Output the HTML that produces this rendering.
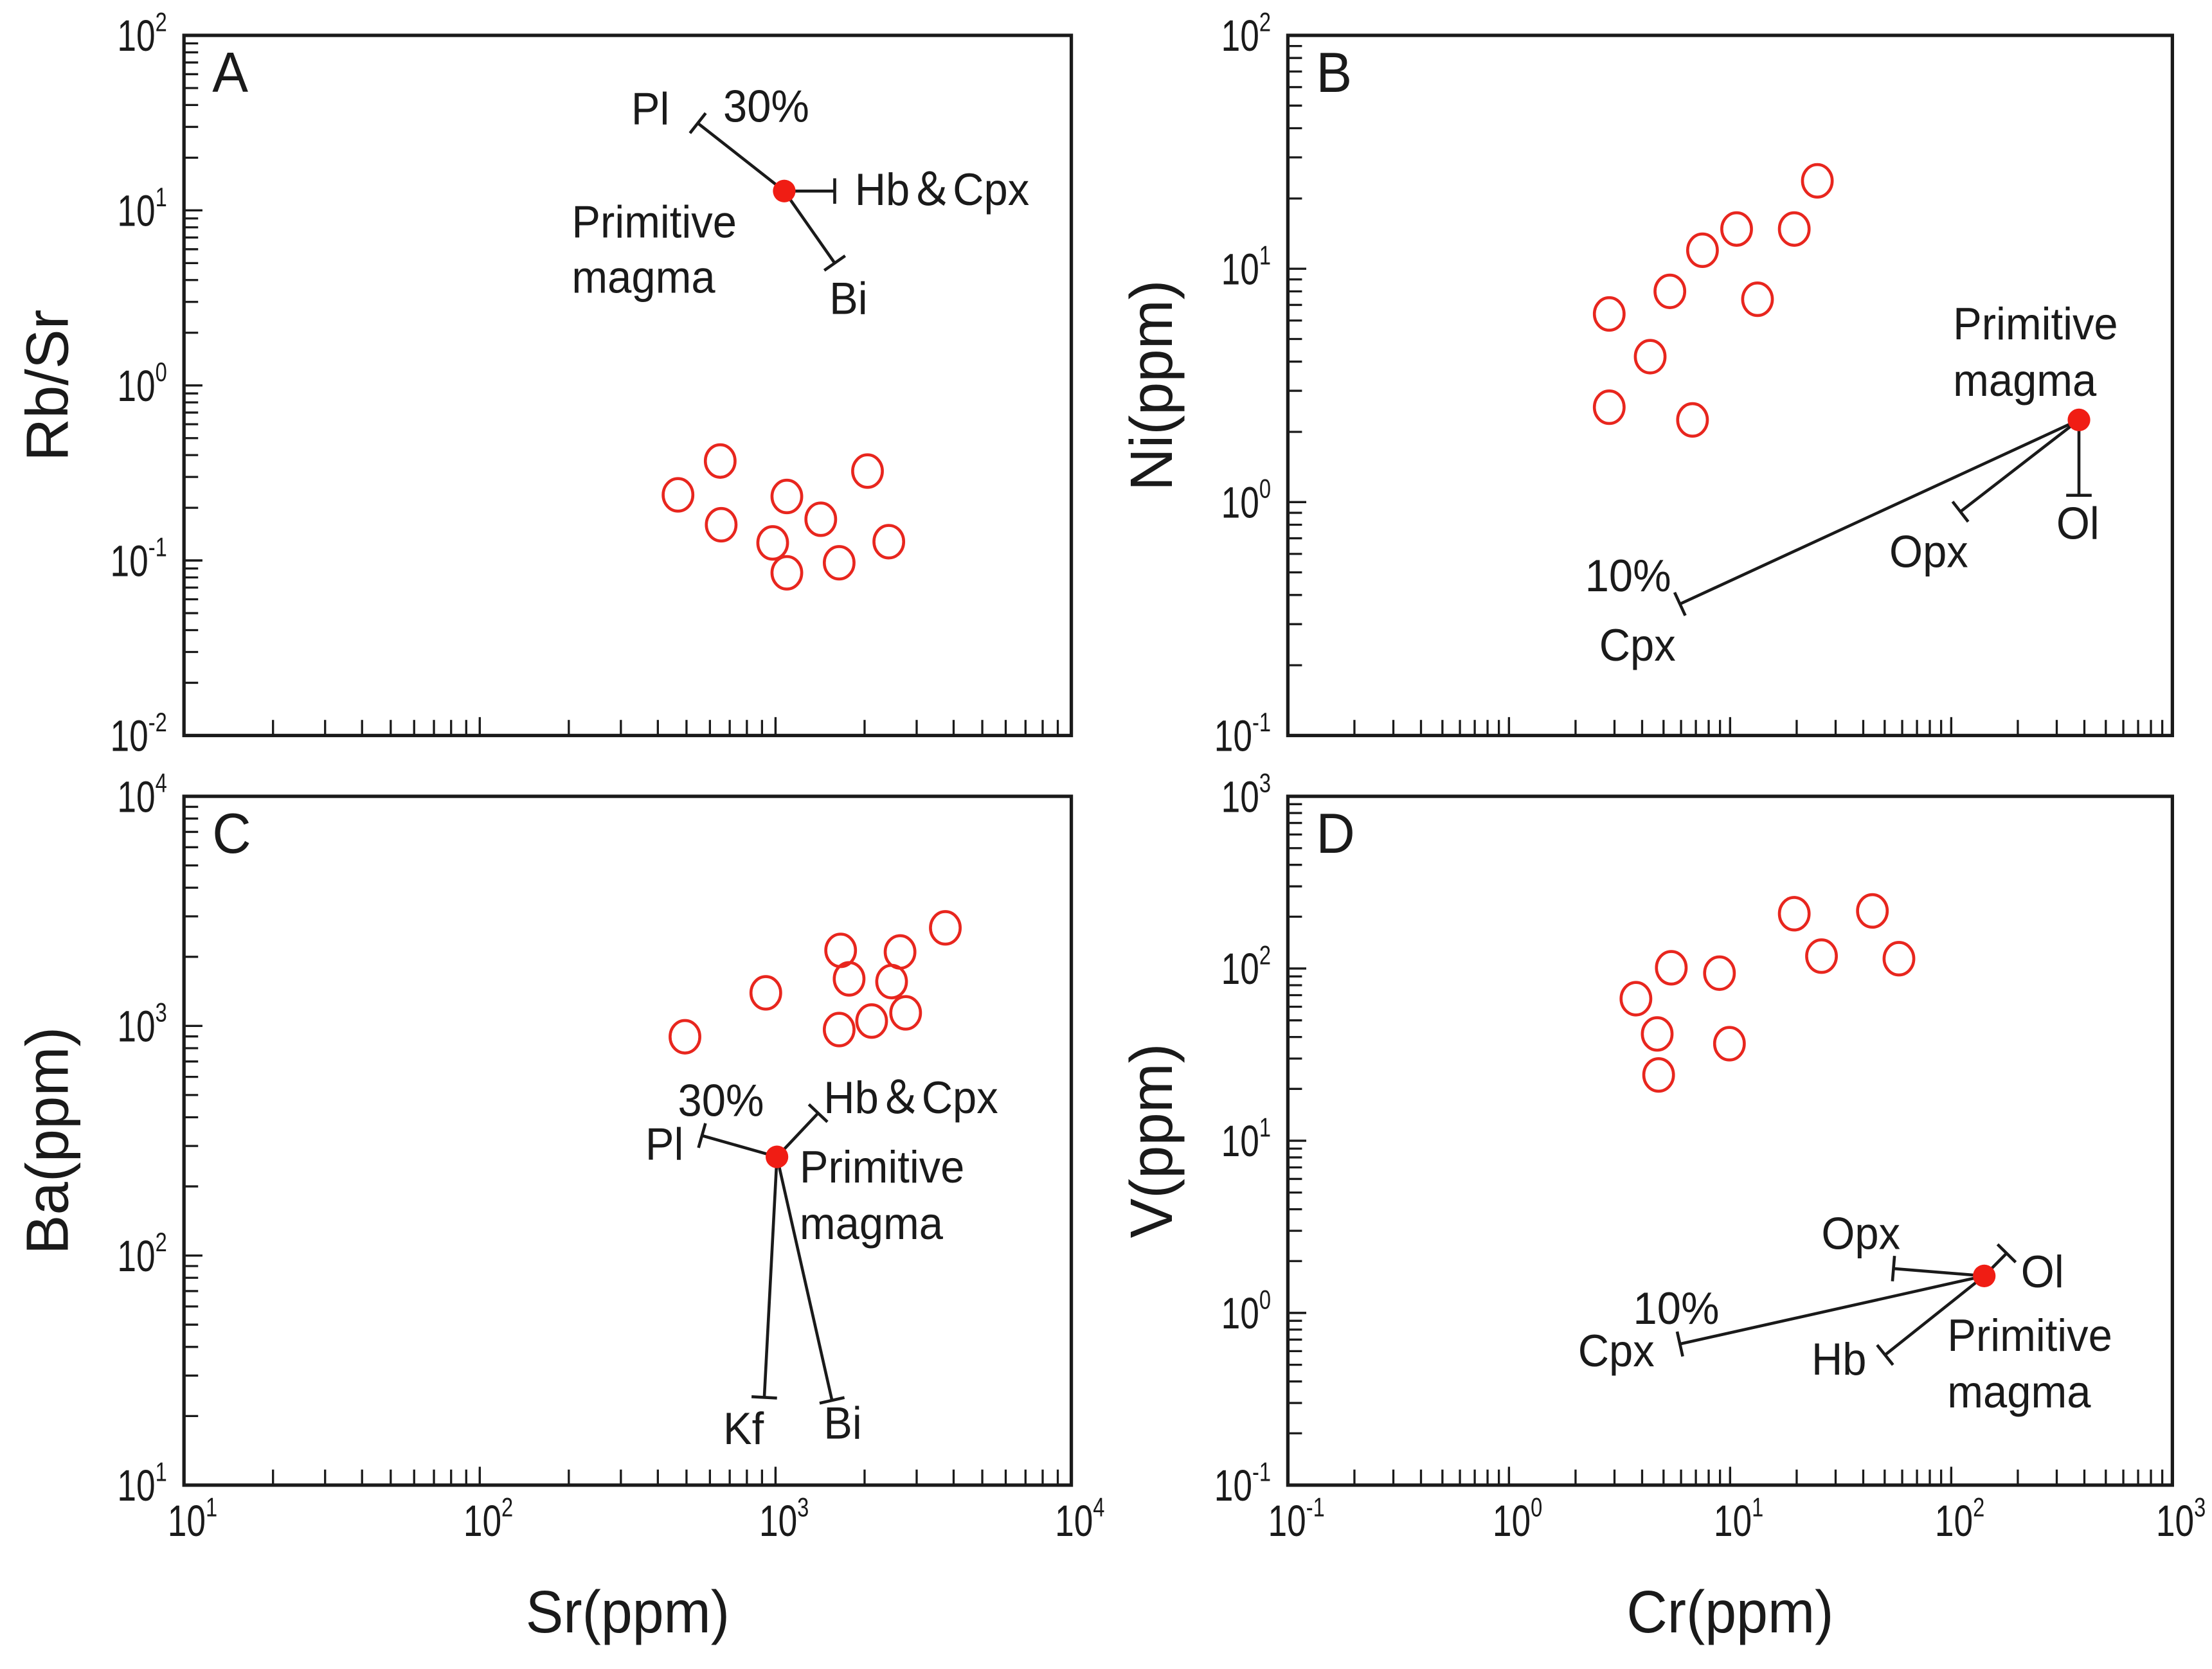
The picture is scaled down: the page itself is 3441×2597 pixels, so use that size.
<!DOCTYPE html>
<html><head><meta charset="utf-8">
<style>
html,body{margin:0;padding:0;background:#fff;}
svg{display:block;}
text{font-family:"Liberation Sans","Noto Sans CJK SC",sans-serif;fill:#1a1a1a;}
</style></head>
<body>
<svg id="chart" width="3441" height="2597" viewBox="0 0 1563 1180" preserveAspectRatio="none" xmlns="http://www.w3.org/2000/svg"></svg>
<script>
// ---- data ----
const aSr = [468, 650, 655, 978, 1092, 1092, 1422, 1641, 2046, 2415];
const aRbSr = [0.237, 0.37, 0.16, 0.126, 0.232, 0.085, 0.172, 0.097, 0.324, 0.128];
const aPrim = [1070, 12.9];
const aVecNames = ["Pl", "Hb&Cpx", "Bi"];
const aVecX = [546, 1585, 1585];
const aVecY = [31.5, 12.9, 5.0];

const bCr = [2.84, 4.35, 2.84, 5.34, 7.5, 10.7, 13.3, 19.5, 24.8, 6.76];
const bNi = [6.4, 4.2, 2.55, 8.0, 12, 14.8, 7.4, 14.8, 23.8, 2.25];
const bPrim = [378, 2.25];
const bVecNames = ["Ol", "Opx", "Cpx"];
const bVecX = [378, 110, 5.93];
const bVecY = [1.07, 0.91, 0.366];

const cSr = [494, 927, 1660, 1773, 1641, 2113, 2636, 2468, 2753, 3750];
const cBa = [897, 1393, 2133, 1603, 964, 1050, 2100, 1560, 1140, 2673];
const cPrim = [1011, 269];
const cVecNames = ["Pl", "Hb&Cpx", "Kf", "Bi"];
const cVecX = [564, 1393, 916, 1552];
const cVecY = [333, 417, 24.1, 23.4];

const dCr = [3.75, 5.42, 4.68, 4.75, 8.95, 9.93, 19.5, 25.9, 44, 58];
const dV = [66.8, 101, 41.7, 24.1, 94, 36.6, 208, 118, 216, 114];
const dPrim = [141, 1.64];
const dVecNames = ["Ol", "Opx", "Hb", "Cpx"];
const dVecX = [178, 54.8, 50.2, 5.93];
const dVecY = [2.22, 1.81, 0.57, 0.66];

const NS = "http://www.w3.org/2000/svg";
const svg = document.getElementById("chart");
function mk(tag, attrs, parent) {
  const e = document.createElementNS(NS, tag);
  for (const k in attrs) e.setAttribute(k, attrs[k]);
  (parent || svg).appendChild(e);
  return e;
}
function txt(parent, x, y, s, size, anchor) {
  const t = mk("text", {x: x, y: y, "font-size": size, "text-anchor": anchor || "start",
    transform: "translate(" + x + "," + y + ") scale(0.95,1) translate(" + (-x) + "," + (-y) + ")"}, parent);
  t.textContent = s;
  return t;
}
function powLabel(parent, x, y, exp, anchor) {
  const t = mk("text", {x: x, y: y, "font-size": 31, "text-anchor": anchor, "transform": "translate(" + x + "," + y + ") scale(0.78,1) translate(" + (-x) + "," + (-y) + ")"}, parent);
  const a = mk("tspan", {}, t); a.textContent = "10";
  const b = mk("tspan", {dy: -14, "font-size": 19}, t); b.textContent = String(exp);
  return t;
}

function panel(cfg) {
  const g = mk("g", {});
  
  
  const X = v => cfg.x0 + (Math.log10(v) - cfg.xl[0]) / (cfg.xl[1] - cfg.xl[0]) * (cfg.x1 - cfg.x0);
  const Y = v => cfg.y1 - (Math.log10(v) - cfg.yl[0]) / (cfg.yl[1] - cfg.yl[0]) * (cfg.y1 - cfg.y0);
  const fr = mk("rect", {x: cfg.x0, y: cfg.y0, width: cfg.x1 - cfg.x0, height: cfg.y1 - cfg.y0, fill: "none", stroke: "#1a1a1a", "stroke-width": 2.4}, g);
  
  
  const tk = mk("g", {stroke: "#1a1a1a", "stroke-width": 1.5}, g);
  
  
  for (let d = cfg.xl[0]; d < cfg.xl[1]; d++) {
    for (let k = 1; k <= 10; k++) {
      const v = k * Math.pow(10, d);
      if (k === 1 && d === cfg.xl[0]) continue;
      if (k === 10 && d + 1 === cfg.xl[1]) continue;
      const x = X(v);
      mk("line", {x1: x, x2: x, y1: cfg.y1, y2: cfg.y1 - (k === 10 ? 13 : 11)}, tk);
    }
  }
  for (let d = cfg.yl[0]; d < cfg.yl[1]; d++) {
    for (let k = 1; k <= 10; k++) {
      const v = k * Math.pow(10, d);
      const y = Y(v);
      mk("line", {x1: cfg.x0, x2: cfg.x0 + (k === 1 || k === 10 ? 13 : 10), y1: y, y2: y}, tk);
    }
  }
  for (let d = cfg.yl[0]; d <= cfg.yl[1]; d++) {
    const l = powLabel(g, cfg.x0 - 12, Y(Math.pow(10, d)) + 11, d, "end");
    
    
  }
  if (cfg.showX) {
    for (let d = cfg.xl[0]; d <= cfg.xl[1]; d++) {
      const l = powLabel(g, X(Math.pow(10, d)) + 6, cfg.y1 + 36, d, "middle");
      
      
    }
    const xt = txt(g, (cfg.x0 + cfg.x1) / 2, cfg.y1 + 104, cfg.xTitle, 42, "middle");
    
    
  }
  const cy = (cfg.y0 + cfg.y1) / 2;
  const yt = mk("text", {x: 0, y: 0, "font-size": 42, "text-anchor": "middle", transform: "translate(" + (cfg.x0 - 82) + "," + cy + ") rotate(-90)"}, g);
  yt.textContent = cfg.yTitle;
  
  
  const pl = txt(g, cfg.x0 + 20, cfg.y0 + 40, cfg.letter, 40);
  
  
  const px = X(cfg.prim[0]), py = Y(cfg.prim[1]);
  for (let i = 0; i < cfg.vx.length; i++) {
    const ex = X(cfg.vx[i]), ey = Y(cfg.vy[i]);
    const vg = mk("g", {stroke: "#1a1a1a", "stroke-width": 2.1}, g);
    
    
    mk("line", {x1: px, y1: py, x2: ex, y2: ey}, vg);
    const dx = ex - px, dy = ey - py, L = Math.hypot(dx, dy) || 1;
    const nx = -dy / L * 9, ny = dx / L * 9;
    mk("line", {x1: ex - nx, y1: ey - ny, x2: ex + nx, y2: ey + ny}, vg);
  }
  for (let i = 0; i < cfg.xs.length; i++) {
    const c = mk("ellipse", {cx: X(cfg.xs[i]), cy: Y(cfg.ys[i]), rx: 10.5, ry: 11.5, fill: "none", stroke: "#e8261e", "stroke-width": 2.1}, g);
    
    
  }
  const pm = mk("circle", {cx: px, cy: py, r: 8, fill: "#f01d14"}, g);
  
  
  cfg.labels.forEach(a => {
    const t = txt(g, a[1], a[2], a[0], 32);
    
    
  });
}

panel({name: "panel-a", letter: "A", x0: 130, x1: 757, y0: 25, y1: 520, xl: [1, 4], yl: [-2, 2],
  xs: aSr, ys: aRbSr, prim: aPrim, vx: aVecX, vy: aVecY, vn: aVecNames, showX: false, yTitle: "Rb/Sr",
  labels: [["Pl", 446, 88], ["30%", 511, 86], ["Hb\uFF06Cpx", 604, 145], ["Primitive", 404, 168], ["magma", 404, 207], ["Bi", 586, 222]]});
panel({name: "panel-b", letter: "B", x0: 910, x1: 1535, y0: 25, y1: 520, xl: [-1, 3], yl: [-1, 2],
  xs: bCr, ys: bNi, prim: bPrim, vx: bVecX, vy: bVecY, vn: bVecNames, showX: false, yTitle: "Ni(ppm)",
  labels: [["Primitive", 1380, 240], ["magma", 1380, 280], ["Ol", 1453, 381], ["Opx", 1335, 401], ["10%", 1120, 418], ["Cpx", 1130, 467]]});
panel({name: "panel-c", letter: "C", x0: 130, x1: 757, y0: 563, y1: 1050, xl: [1, 4], yl: [1, 4],
  xs: cSr, ys: cBa, prim: cPrim, vx: cVecX, vy: cVecY, vn: cVecNames, showX: true, xTitle: "Sr(ppm)", yTitle: "Ba(ppm)",
  labels: [["30%", 479, 789], ["Hb\uFF06Cpx", 582, 787], ["Pl", 456, 820], ["Primitive", 565, 836], ["magma", 565, 876], ["Kf", 511, 1021], ["Bi", 582, 1017]]});
panel({name: "panel-d", letter: "D", x0: 910, x1: 1535, y0: 563, y1: 1050, xl: [-1, 3], yl: [-1, 3],
  xs: dCr, ys: dV, prim: dPrim, vx: dVecX, vy: dVecY, vn: dVecNames, showX: true, xTitle: "Cr(ppm)", yTitle: "V(ppm)",
  labels: [["Opx", 1287, 883], ["Ol", 1428, 910], ["10%", 1154, 936], ["Cpx", 1115, 966], ["Hb", 1280, 972], ["Primitive", 1376, 955], ["magma", 1376, 995]]});
</script>
</body></html>
